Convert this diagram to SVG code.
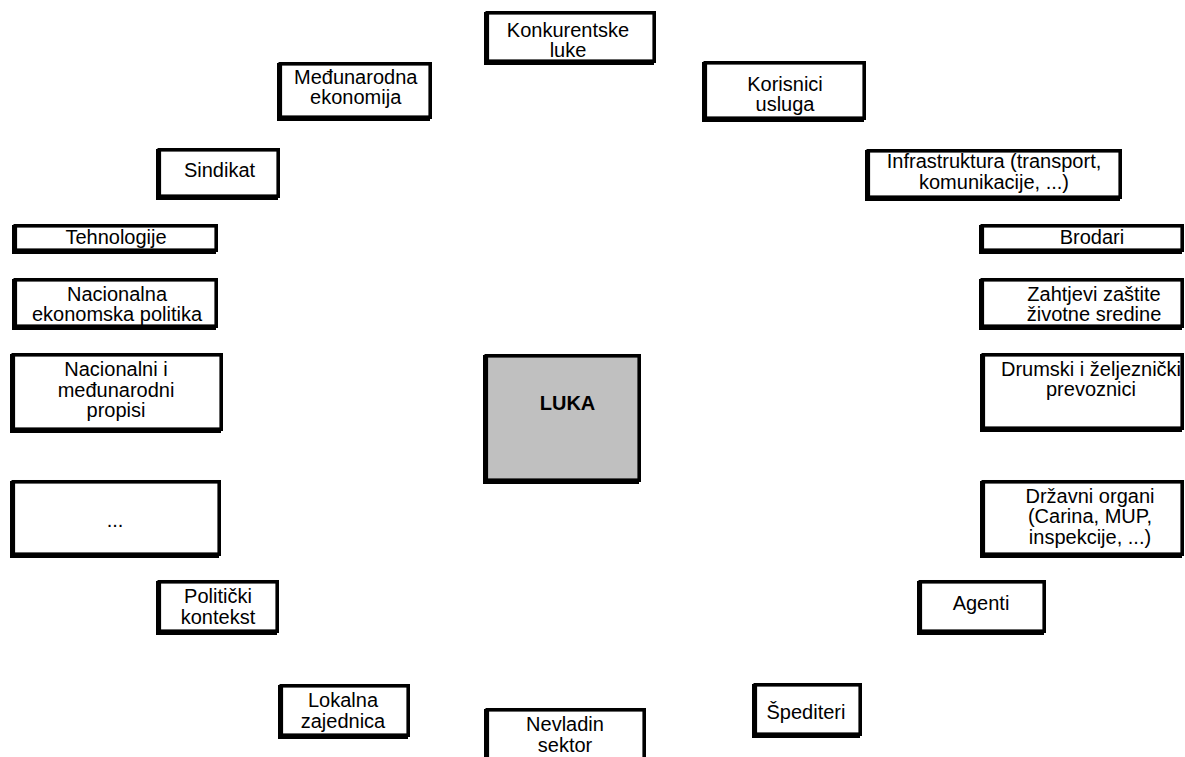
<svg xmlns="http://www.w3.org/2000/svg" width="1185" height="757" viewBox="0 0 1185 757">
<style>
.sh{fill:#000}
.bx{fill:#fff;stroke:#000;stroke-width:3.6}
.hub{fill:#c0c0c0;stroke:#000;stroke-width:3.6}
text{font-family:"Liberation Sans",Arial,sans-serif;font-size:20px;fill:#000;text-anchor:middle}
.b{font-weight:bold}
</style>
<rect width="1185" height="757" fill="#fff"/>
<g id="connectors"/>
<g id="konkurentske-luke"><rect class="sh" x="484" y="12" width="170" height="53"/><rect class="bx" x="487.3" y="12.8" width="166.9" height="48.4"/><text x="568" y="36.7">Konkurentske</text><text x="568" y="57.3">luke</text></g>
<g id="medjunarodna-ekonomija"><rect class="sh" x="277" y="63" width="153" height="58"/><rect class="bx" x="280.3" y="63.8" width="149.9" height="53.4"/><text x="355.7" y="84.3">Međunarodna</text><text x="355.7" y="104.3">ekonomija</text></g>
<g id="korisnici-usluga"><rect class="sh" x="702" y="62" width="162" height="60"/><rect class="bx" x="705.3" y="62.8" width="158.9" height="55.4"/><text x="785" y="91">Korisnici</text><text x="785" y="111">usluga</text></g>
<g id="sindikat"><rect class="sh" x="156" y="149" width="122" height="51"/><rect class="bx" x="159.3" y="149.8" width="118.9" height="46.4"/><text x="219.5" y="177.3">Sindikat</text></g>
<g id="infrastruktura"><rect class="sh" x="865" y="150" width="255" height="51"/><rect class="bx" x="868.3" y="150.8" width="251.9" height="46.4"/><text x="994" y="168.3">Infrastruktura (transport,</text><text x="994" y="189.3">komunikacije, ...)</text></g>
<g id="tehnologije"><rect class="sh" x="12" y="225" width="204" height="29"/><rect class="bx" x="15.3" y="225.8" width="200.9" height="24.4"/><text x="116" y="244.3">Tehnologije</text></g>
<g id="brodari"><rect class="sh" x="979" y="225" width="203" height="29"/><rect class="bx" x="982.3" y="225.8" width="199.9" height="24.4"/><text x="1092" y="244.3">Brodari</text></g>
<g id="nacionalna-ekonomska-politika"><rect class="sh" x="12" y="279" width="204" height="51"/><rect class="bx" x="15.3" y="279.8" width="200.9" height="46.4"/><text x="117" y="301">Nacionalna</text><text x="117" y="321">ekonomska politika</text></g>
<g id="zahtjevi-zastite"><rect class="sh" x="979" y="279" width="203" height="51"/><rect class="bx" x="982.3" y="279.8" width="199.9" height="46.4"/><text x="1094" y="301">Zahtjevi zaštite</text><text x="1094" y="321">životne sredine</text></g>
<g id="propisi"><rect class="sh" x="10" y="354" width="211" height="79"/><rect class="bx" x="13.3" y="354.8" width="207.9" height="74.4"/><text x="116" y="376">Nacionalni i</text><text x="116" y="396.7">međunarodni</text><text x="116" y="417.3">propisi</text></g>
<g id="prevoznici"><rect class="sh" x="980" y="354" width="202" height="78"/><rect class="bx" x="983.3" y="354.8" width="198.9" height="73.4"/><text x="1091" y="376">Drumski i željeznički</text><text x="1091" y="396">prevoznici</text></g>
<g id="luka"><rect class="sh" x="483" y="355" width="156" height="129"/><rect class="hub" x="486.3" y="355.8" width="152.9" height="124.4"/><text class="b" x="567.5" y="410">LUKA</text></g>
<g id="ostalo"><rect class="sh" x="10" y="481" width="209" height="77"/><rect class="bx" x="13.3" y="481.8" width="205.9" height="72.4"/><text x="115" y="526.7">...</text></g>
<g id="drzavni-organi"><rect class="sh" x="980" y="481" width="202" height="77"/><rect class="bx" x="983.3" y="481.8" width="198.9" height="72.4"/><text x="1090" y="503.3">Državni organi</text><text x="1090" y="523.3">(Carina, MUP,</text><text x="1090" y="544">inspekcije, ...)</text></g>
<g id="politicki-kontekst"><rect class="sh" x="156" y="581" width="121" height="54"/><rect class="bx" x="159.3" y="581.8" width="117.9" height="49.4"/><text x="218" y="603.3">Politički</text><text x="218" y="624">kontekst</text></g>
<g id="agenti"><rect class="sh" x="917" y="581" width="127" height="54"/><rect class="bx" x="920.3" y="581.8" width="123.9" height="49.4"/><text x="981" y="610">Agenti</text></g>
<g id="lokalna-zajednica"><rect class="sh" x="278" y="685" width="130" height="54"/><rect class="bx" x="281.3" y="685.8" width="126.9" height="49.4"/><text x="343" y="707">Lokalna</text><text x="343" y="728">zajednica</text></g>
<g id="spediteri"><rect class="sh" x="752" y="684" width="108" height="54"/><rect class="bx" x="755.3" y="684.8" width="104.9" height="49.4"/><text x="806" y="719">Špediteri</text></g>
<g id="nevladin-sektor"><rect class="sh" x="484" y="709" width="160" height="62"/><rect class="bx" x="487.3" y="709.8" width="156.9" height="57.4"/><text x="565" y="731">Nevladin</text><text x="565" y="752">sektor</text></g>
</svg>
